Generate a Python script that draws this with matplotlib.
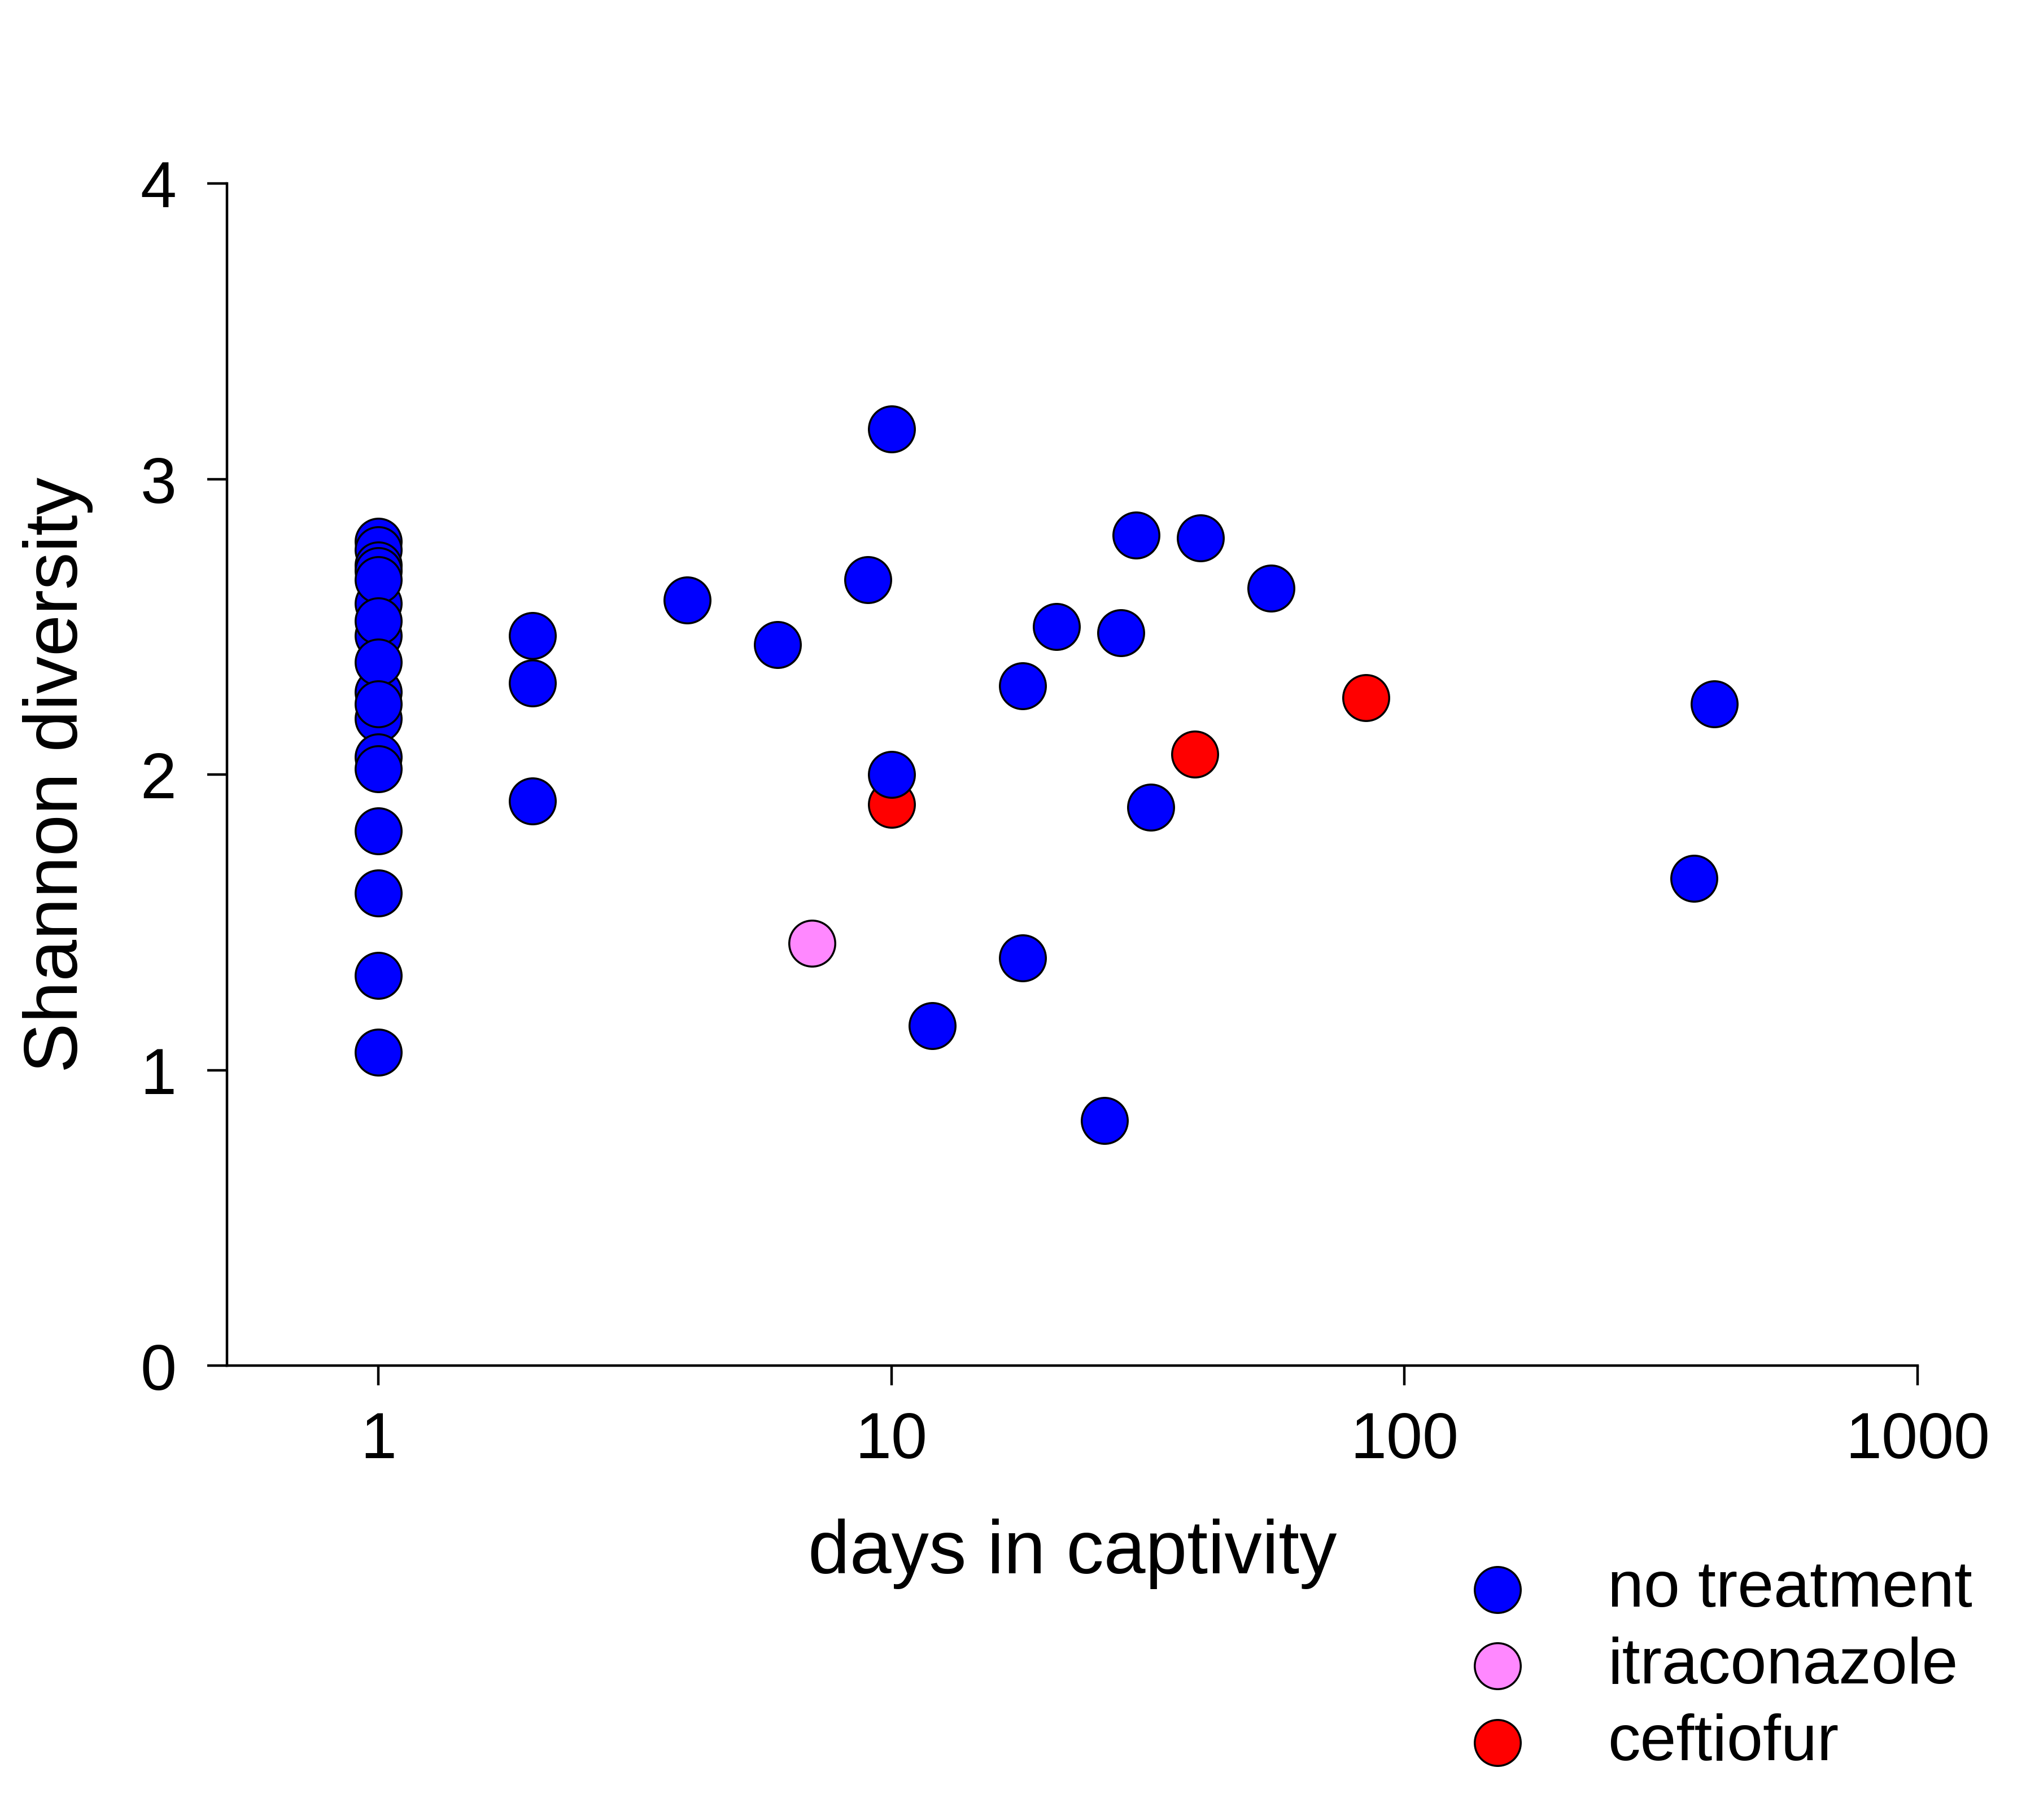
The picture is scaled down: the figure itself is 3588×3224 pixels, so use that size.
import matplotlib
matplotlib.use('Agg')
import matplotlib.pyplot as plt

plt.rcParams['font.family'] = ['Liberation Sans', 'DejaVu Sans']

# days in captivity / Shannon diversity
none_days = [1, 1, 1, 1, 1, 1, 1, 1, 1, 1, 1, 1, 1, 1, 1, 1, 1, 1,
             2, 2, 2, 4, 6, 9, 10, 10, 12, 18, 18, 21, 26, 28, 30, 32,
             40, 55, 367, 402]
none_div = [2.79, 2.76, 2.71, 2.69, 2.58, 2.47, 2.28, 2.19, 2.06, 2.66,
            2.52, 2.38, 2.24, 2.02, 1.81, 1.60, 1.32, 1.06,
            2.47, 2.31, 1.91, 2.59, 2.44, 2.66, 3.17, 2.00, 1.15, 2.30,
            1.38, 2.50, 0.83, 2.48, 2.81, 1.89, 2.80, 2.63, 1.65, 2.24]

itra_days = [7]
itra_div = [1.43]

ceft_days = [10, 39, 84]
ceft_div = [1.90, 2.07, 2.26]

fig = plt.figure(figsize=(15.6, 14.02), dpi=230)
ax = fig.add_axes([0.112, 0.2495, 0.8345, 0.6495])

ms = 650
ax.scatter(none_days, none_div, s=ms, c='#0000ff', edgecolors='black',
           linewidths=1.1, zorder=4, label='no treatment')
ax.scatter(itra_days, itra_div, s=ms, c='#ff88ff', edgecolors='black',
           linewidths=1.1, zorder=3, label='itraconazole')
ax.scatter(ceft_days, ceft_div, s=ms, c='#ff0000', edgecolors='black',
           linewidths=1.1, zorder=3, label='ceftiofur')

ax.set_xscale('log')
ax.set_xlim(0.507, 1000)
ax.set_ylim(0, 4)
ax.set_xticks([1, 10, 100, 1000])
ax.set_xticklabels(['1', '10', '100', '1000'])
ax.minorticks_off()
ax.set_yticks([0, 1, 2, 3, 4])

for side in ['top', 'right']:
    ax.spines[side].set_visible(False)
for side in ['left', 'bottom']:
    ax.spines[side].set_linewidth(1.4)
ax.tick_params(axis='both', direction='out', length=11, width=1.4, labelsize=36)
ax.tick_params(axis='x', pad=14)
ax.tick_params(axis='y', pad=17)

ax.set_xlabel('days in captivity', fontsize=41.5, labelpad=26)
ax.set_ylabel('Shannon diversity', fontsize=41.5, labelpad=26)

fig.legend(loc='upper left', bbox_to_anchor=(0.715, 0.143), frameon=False,
           fontsize=36, handlelength=1.5, handletextpad=0.95,
           labelspacing=0.25, borderaxespad=0, borderpad=0)

fig.savefig('out.png', dpi=230)
